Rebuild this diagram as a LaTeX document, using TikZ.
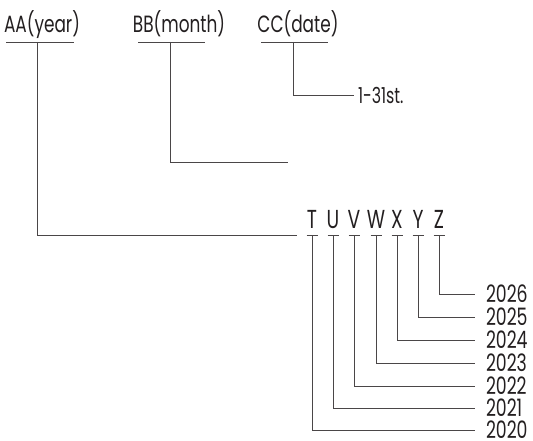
\documentclass[tikz,border=0pt]{standalone}
\usepackage{fontspec}
\setmainfont{Poppins}[FakeStretch=0.72]
\usetikzlibrary{positioning}
\definecolor{ink}{HTML}{231F20}
\definecolor{wire}{HTML}{4A4647}

\begin{document}
\begin{tikzpicture}[x=1pt,y=-1pt,line width=0.8pt,text=ink,
        head node/.style={anchor=base,inner sep=0pt,font=\fontsize{23.5}{24}\selectfont},
        letter node/.style={anchor=base,inner sep=0pt,font=\fontsize{26}{26}\selectfont},
        year node/.style={anchor=west,inner xsep=11pt,inner ysep=0pt,outer sep=0pt,font=\fontsize{24}{24}\selectfont},
        bar/.style={draw=wire}]
        \useasboundingbox (0,0) rectangle (533,441);

        % headers
        \node[head node] (year) at (42,33) {AA(year)};
        \node[head node] (month) at (179,33) {BB(month)};
        \node[head node] (date) at (298,33) {CC(date)};
        \draw[bar] (6,42) -- (74,42) (138,42) -- (205,42) (261,42) -- (328,42);
        \coordinate (uyear) at (37,42);
        \coordinate (umonth) at (170,42);
        \coordinate (udate) at (293,42);
        \coordinate (eyear) at (297,235);
        \coordinate (emonth) at (288,162);

        \node[year node,inner xsep=4pt,font=\fontsize{22}{22}\selectfont] (days) at (354,95) {1-31st.};

        % year letters
        \node[letter node] (T) at (312,228) {T};
        \node[letter node] (U) at (333,228) {U};
        \node[letter node] (V) at (354,228) {V};
        \node[letter node] (W) at (376,228) {W};
        \node[letter node] (X) at (397,228) {X};
        \node[letter node] (Y) at (418,228) {Y};
        \node[letter node] (Z) at (439,228) {Z};
        \draw[bar] (306.5,235) -- (317.5,235) (327.5,235) -- (338.5,235)
                (348.5,235) -- (359.5,235) (370.5,235) -- (381.5,235)
                (391.5,235) -- (402.5,235) (412.5,235) -- (423.5,235)
                (433.5,235) -- (444.5,235);

        \node[year node] (2020) at (475,430) {2020};
        \node[year node] (2021) at (475,408) {2021};
        \node[year node] (2022) at (475,386) {2022};
        \node[year node] (2023) at (475,363) {2023};
        \node[year node] (2024) at (475,340) {2024};
        \node[year node] (2025) at (475,317) {2025};
        \node[year node] (2026) at (475,294) {2026};

        \path[bar]
        (uyear) edge[to path={|- (\tikztotarget)}] (eyear)
        (umonth) edge[to path={|- (\tikztotarget)}] (emonth)
        (udate) edge[to path={|- (\tikztotarget)}] (days)
        (T.base |- eyear) edge[to path={|- (\tikztotarget)}] (2020)
        (U.base |- eyear) edge[to path={|- (\tikztotarget)}] (2021)
        (V.base |- eyear) edge[to path={|- (\tikztotarget)}] (2022)
        (W.base |- eyear) edge[to path={|- (\tikztotarget)}] (2023)
        (X.base |- eyear) edge[to path={|- (\tikztotarget)}] (2024)
        (Y.base |- eyear) edge[to path={|- (\tikztotarget)}] (2025)
        (Z.base |- eyear) edge[to path={|- (\tikztotarget)}] (2026);
\end{tikzpicture}
\end{document}
